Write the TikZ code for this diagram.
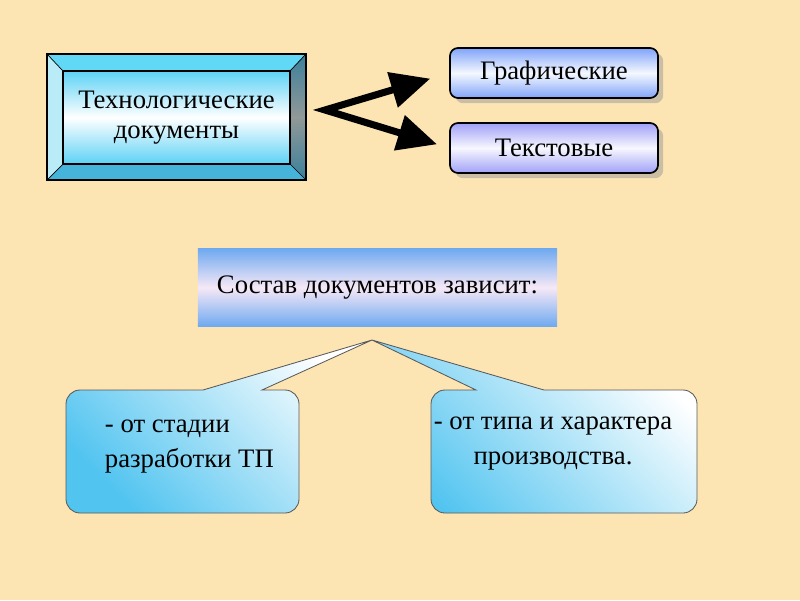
\documentclass[tikz,border=0pt]{standalone}
\usepackage{fontspec}
\setmainfont{Liberation Serif}
\usetikzlibrary{arrows.meta}
\usetikzlibrary{shadows}

\definecolor{bgpeach}{RGB}{253,229,179}
\definecolor{bevtop}{RGB}{98,216,247}
\definecolor{bevleft}{RGB}{186,236,248}
\definecolor{bevdark}{RGB}{58,128,155}
\definecolor{bevgrey}{RGB}{145,152,152}
\definecolor{bevbot}{RGB}{70,180,218}
\definecolor{facecyan}{RGB}{92,210,245}
\definecolor{grafblue}{RGB}{128,164,250}
\definecolor{tekstlav}{RGB}{160,160,248}
\definecolor{sostblue}{RGB}{112,170,240}
\definecolor{sostpink}{RGB}{246,232,246}
\definecolor{callcyan}{RGB}{82,196,240}

\begin{document}
\begin{tikzpicture}[x=0.025cm,y=-0.025cm,
  every node/.style={font=\fontsize{19}{25}\selectfont},
  rbox/.style={draw=black, line width=1.2pt, rounded corners=0.2cm,
    minimum width=5.2cm, minimum height=1.25cm,
    drop shadow={shadow xshift=0.13cm, shadow yshift=-0.13cm, fill=black!40, opacity=0.5}},
  callout/.style={draw=black!65, line width=0.6pt},
  chev/.style={line width=5pt, line join=miter, miter limit=20}]

  \useasboundingbox (0,0) rectangle (800,600);
  \fill[bgpeach] (0,0) rectangle (800,600);

  % bevelled box
  \coordinate (o1) at (47,54);
  \coordinate (o2) at (306,54);
  \coordinate (o3) at (306,180);
  \coordinate (o4) at (47,180);
  \coordinate (i1) at (63,71);
  \coordinate (i2) at (290,71);
  \coordinate (i3) at (290,164);
  \coordinate (i4) at (63,164);
  \fill[bevtop] (o1) -- (o2) -- (i2) -- (i1) -- cycle;
  \fill[bevleft] (o1) -- (i1) -- (i4) -- (o4) -- cycle;
  \shade[top color=bevdark, bottom color=bevdark, middle color=bevgrey] (o2) -- (o3) -- (i3) -- (i2) -- cycle;
  \fill[bevbot] (o4) -- (i4) -- (i3) -- (o3) -- cycle;
  \draw[line width=0.5pt] (o1) -- (i1) (o2) -- (i2) (o3) -- (i3) (o4) -- (i4);
  \node[draw=black, line width=1pt, top color=facecyan, bottom color=facecyan, middle color=white,
    minimum width=5.675cm, minimum height=2.325cm, align=center, font=\fontsize{19}{21}\selectfont]
    (tech) at (176.5,117.5) {Технологические\\документы};
  \draw[line width=1.2pt] (o1) rectangle (o3);

  \node[rbox, top color=grafblue, bottom color=grafblue, middle color=white!92!grafblue] (graf) at (554,73) {Графические};
  \node[rbox, top color=tekstlav, bottom color=tekstlav, middle color=white!92!tekstlav] (tekst) at (554,148) {Текстовые};

  \coordinate (fork) at (325,110);
  \draw[chev, {Triangle[length=28pt, width=25pt]}-{Triangle[length=28pt, width=25pt]},
    shorten <=14pt, shorten >=9pt] (graf.west) -- (fork) -- (tekst.west);

  \node[top color=sostblue, bottom color=sostblue, middle color=sostpink,
    minimum width=8.975cm, minimum height=1.925cm] (sostav) at (377.5,287.5) {Состав документов зависит:};

  \coordinate (tip) at (372,340);
  \draw[callout, top color=white, bottom color=callcyan, shading angle=-45]
    (262,390) [rounded corners=0.35cm] -- (299,390) -- (299,513) -- (66,513) -- (66,390)
    [sharp corners] -- (203,390) -- (tip) -- cycle;
  \draw[callout, top color=white, bottom color=callcyan, shading angle=-45]
    (544,390) [rounded corners=0.35cm] -- (697,390) -- (697,513) -- (431,513) -- (431,390)
    [sharp corners] -- (476,390) -- (tip) -- cycle;

  \node[align=left, anchor=north west] (stage) at (100,415) {- от стадии\\разработки ТП};
  \node[align=center, anchor=north] (kind) at (553,412) {- от типа и характера\\производства.};
\end{tikzpicture}
\end{document}
